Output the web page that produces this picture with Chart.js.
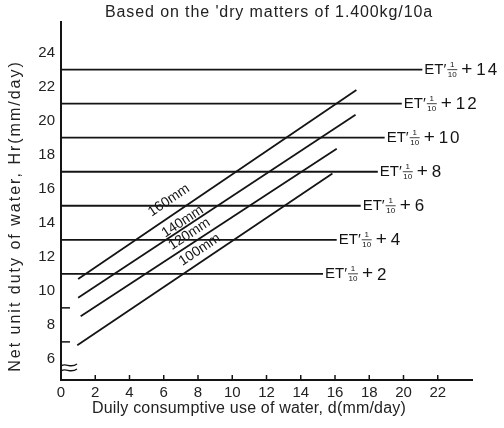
<!DOCTYPE html>
<html><head><meta charset="utf-8">
<script src="https://cdn.jsdelivr.net/npm/chart.js@4.4.1/dist/chart.umd.min.js"></script>
<style>html,body{margin:0;padding:0;background:#fff}#wrap{width:504px;height:428px;position:relative}</style>
</head><body><div id="wrap"><canvas id="c" width="504" height="428"></canvas></div>
<script>
// ---- data ----
const titleText = "Based on the 'dry matters of 1.400kg/10a";
const xTitle = "Duily consumptive use of water, d(mm/day)";
const yTitle = "Net unit duty of water, Hr(mm/day)";
const xTickValues = [0, 2, 4, 6, 8, 10, 12, 14, 16, 18, 20, 22];
const yTickValues = [6, 8, 10, 12, 14, 16, 18, 20, 22, 24];
const yMinorTicks = [7, 9];
const etLevels = [23, 21, 19, 17, 15, 13, 11];
const etAddends = [14, 12, 10, 8, 6, 4, 2];
const etLineEnds = [21.1, 19.9, 18.9, 18.5, 17.5, 16.1, 15.3];
const depthLabels = ['160mm', '140mm', '120mm', '100mm'];
const depthStartX = [1.0, 1.0, 1.15, 0.95];
const depthStartY = [10.7, 9.6, 8.5, 6.8];
const depthEndX = [17.25, 17.2, 16.1, 15.85];
const depthEndY = [21.8, 20.35, 18.35, 16.9];
const depthLabelX = [6.3, 7.1, 7.5, 8.1];

// ---- styles ----
const INK = '#141414';
const FONT = '"Liberation Sans", Arial, sans-serif';
const depthLabelLift = [17, 7, 11, 13];

const datasets = [];
etLevels.forEach((lvl, i) => {
  datasets.push({data: [{x: 0, y: lvl}, {x: etLineEnds[i], y: lvl}],
    borderColor: INK, borderWidth: 1.8, pointRadius: 0, tension: 0, clip: false});
});
depthLabels.forEach((n, i) => {
  datasets.push({data: [{x: depthStartX[i], y: depthStartY[i]}, {x: depthEndX[i], y: depthEndY[i]}],
    borderColor: INK, borderWidth: 1.8, pointRadius: 0, tension: 0, clip: false});
});

const deco = {
  id: 'deco',
  afterDraw(chart) {
    const ctx = chart.ctx, xs = chart.scales.x, ys = chart.scales.y, ca = chart.chartArea;
    ctx.save();
    ctx.fillStyle = INK; ctx.strokeStyle = INK;
    // x tick marks (inward)
    ctx.lineWidth = 1.5;
    xTickValues.forEach(v => { if (v === 0) return; const px = xs.getPixelForValue(v);
      ctx.beginPath(); ctx.moveTo(px, ca.bottom); ctx.lineTo(px, ca.bottom - 5); ctx.stroke(); });
    // y minor tick marks
    yMinorTicks.forEach(v => { const py = ys.getPixelForValue(v);
      ctx.beginPath(); ctx.moveTo(ca.left, py); ctx.lineTo(ca.left + 9, py); ctx.stroke(); });
    // axis break squiggle
    ctx.lineWidth = 1.3;
    [365, 370].forEach(yy => {
      ctx.beginPath(); ctx.moveTo(ca.left, yy + 1);
      ctx.bezierCurveTo(ca.left + 5, yy - 3, ca.left + 9, yy + 4, ca.left + 16, yy - 1);
      ctx.stroke(); });
    // ET labels
    ctx.textBaseline = 'middle'; ctx.textAlign = 'left';
    etLevels.forEach((lvl, i) => {
      const x0 = xs.getPixelForValue(etLineEnds[i]) + 2, y = ys.getPixelForValue(lvl);
      ctx.letterSpacing = '0px';
      ctx.font = '15px ' + FONT; ctx.fillText("ET\u2032", x0, y);
      const w1 = ctx.measureText("ET\u2032").width;
      const fx = x0 + w1 + 1;
      ctx.font = '8px ' + FONT; ctx.textAlign = 'center';
      ctx.fillText('1', fx + 5, y - 5); ctx.fillText('10', fx + 5, y + 5);
      ctx.lineWidth = 0.8; ctx.beginPath(); ctx.moveTo(fx, y); ctx.lineTo(fx + 10, y); ctx.stroke();
      ctx.textAlign = 'left';
      ctx.font = '19px ' + FONT; ctx.fillText('+', fx + 14, y);
      ctx.letterSpacing = '2px';
      ctx.font = '17px ' + FONT; ctx.fillText(String(etAddends[i]), fx + 29, y + 1);
      ctx.letterSpacing = '0px';
    });
    // depth labels
    ctx.font = '14px ' + FONT; ctx.textAlign = 'center';
    depthLabels.forEach((n, i) => {
      const sx = xs.getPixelForValue(depthStartX[i]), sy = ys.getPixelForValue(depthStartY[i]);
      const ex = xs.getPixelForValue(depthEndX[i]), ey = ys.getPixelForValue(depthEndY[i]);
      const t = (depthLabelX[i] - depthStartX[i]) / (depthEndX[i] - depthStartX[i]);
      const px = sx + (ex - sx) * t, py = sy + (ey - sy) * t - depthLabelLift[i];
      ctx.save(); ctx.translate(px, py); ctx.rotate(Math.atan2(ey - sy, ex - sx));
      ctx.fillText(n, 0, 0); ctx.restore();
    });
    // title
    ctx.fillStyle = '#222';
    ctx.textAlign = 'center'; ctx.textBaseline = 'middle';
    ctx.font = '16px ' + FONT; ctx.letterSpacing = '0.9px';
    ctx.fillText(titleText, 269, 13);
    // x title
    ctx.font = '16px ' + FONT; ctx.letterSpacing = '0.2px';
    ctx.fillText(xTitle, 249, 409);
    // y title
    ctx.save(); ctx.translate(16, 216); ctx.rotate(-Math.PI / 2);
    ctx.font = '16px ' + FONT; ctx.letterSpacing = '2px'; ctx.fillText(yTitle, 0, 0); ctx.restore();
    ctx.letterSpacing = '0px';
    ctx.restore();
  }
};

new Chart(document.getElementById('c'), {
  type: 'line',
  data: {datasets},
  options: {
    responsive: false, animation: false, events: [],
    layout: {padding: {top: 22, right: 32, left: 0, bottom: 0}},
    plugins: {legend: {display: false}, tooltip: {enabled: false}, title: {display: false}},
    scales: {
      x: {type: 'linear', min: 0, max: 24,
        afterFit(s) { s.height = 48; },
        afterBuildTicks(s) { s.ticks = xTickValues.map(v => ({value: v})); },
        grid: {display: false, drawTicks: false}, border: {display: true, color: INK, width: 2},
        ticks: {padding: 4, color: '#222', font: {family: FONT, size: 15}, maxRotation: 0, autoSkip: false}},
      y: {type: 'linear', min: 4.76, max: 25.8,
        afterFit(s) { s.width = 61; },
        afterBuildTicks(s) { s.ticks = yTickValues.map(v => ({value: v})); },
        grid: {display: false, drawTicks: false}, border: {display: true, color: INK, width: 2},
        ticks: {padding: 6, color: '#222', font: {family: FONT, size: 15}, autoSkip: false}}
    }
  },
  plugins: [deco]
});
</script></body></html>
